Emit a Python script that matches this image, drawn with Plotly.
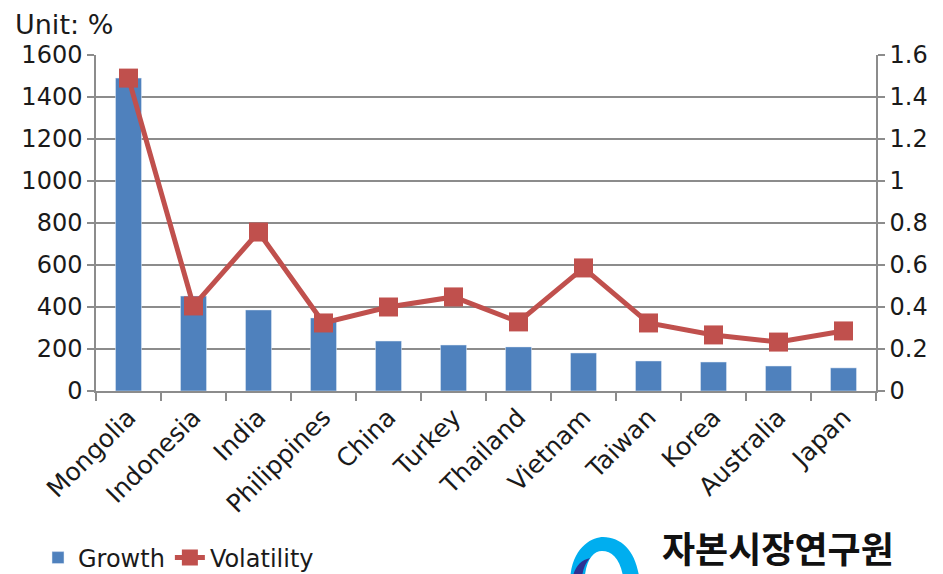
import plotly.graph_objects as go

countries = ["Mongolia", "Indonesia", "India", "Philippines", "China", "Turkey",
             "Thailand", "Vietnam", "Taiwan", "Korea", "Australia", "Japan"]
growth = [1490, 452, 386, 348, 238, 219, 210, 181, 143, 138, 119, 110]
volatility = [1.49, 0.405, 0.757, 0.324, 0.40, 0.448, 0.329, 0.586, 0.324, 0.267, 0.233, 0.286]
left_ticks = [0, 200, 400, 600, 800, 1000, 1200, 1400, 1600]
right_ticks = [0, 0.2, 0.4, 0.6, 0.8, 1, 1.2, 1.4, 1.6]
right_labels = ["0", "0.2", "0.4", "0.6", "0.8", "1", "1.2", "1.4", "1.6"]

BLUE = "#4F81BD"
RED = "#C0504D"
GRID = "#8C8C8C"
FONT = "DejaVu Sans"

W, H = 943, 574
L, R, T, B = 96, 876, 55, 391


def px(x):
    return (x - L) / (R - L)


def py(y):
    return (B - y) / (B - T)


fig = go.Figure()
fig.add_trace(go.Bar(x=countries, y=growth, name="Growth", marker_color=BLUE,
                     width=0.4, yaxis="y"))
fig.add_trace(go.Scatter(x=countries, y=volatility, name="Volatility", yaxis="y2",
                         mode="lines+markers",
                         line=dict(color=RED, width=5),
                         marker=dict(symbol="square", size=19, color=RED)))

fig.update_layout(
    width=W, height=H,
    margin=dict(l=L, r=W - R, t=T, b=H - B, autoexpand=False),
    plot_bgcolor="white", paper_bgcolor="white",
    font=dict(family=FONT, size=24, color="#1a1a1a"),
    xaxis=dict(range=[-0.5, len(countries) - 0.5], automargin=False,
               showline=True, linecolor=GRID, linewidth=1.5, ticks="outside",
               ticklen=8, tickcolor=GRID, tickwidth=1.5, tickangle=-45,
               tickson="boundaries", showgrid=False,
               tickfont=dict(size=25, family=FONT)),
    yaxis=dict(range=[0, 1600], tickvals=left_ticks, automargin=False,
               showgrid=True, gridcolor=GRID, gridwidth=1.5, showline=True,
               linecolor=GRID, linewidth=1.5, ticks="outside", ticklen=7,
               tickcolor=GRID, tickwidth=1.5, zeroline=False,
               tickfont=dict(size=24, family=FONT)),
    yaxis2=dict(range=[0, 1.6], tickvals=right_ticks, ticktext=right_labels,
                automargin=False, overlaying="y", side="right", showgrid=False,
                showline=True, linecolor=GRID, linewidth=1.5, ticks="outside",
                ticklen=7, tickcolor=GRID, tickwidth=1.5, zeroline=False,
                tickfont=dict(size=24, family=FONT)),
    legend=dict(orientation="h", x=px(38), y=py(558), xanchor="left",
                yanchor="middle", font=dict(size=24, family=FONT),
                itemwidth=30, tracegroupgap=0, bgcolor="rgba(0,0,0,0)"),
    showlegend=True,
)

# Unit label above the left axis
fig.add_annotation(text="Unit: %", xref="paper", yref="paper", x=px(13), y=py(24),
                   xanchor="left", yanchor="middle", showarrow=False,
                   font=dict(size=27, family=FONT, color="#1a1a1a"))

# Institute logo: arc emblem and name
fig.add_shape(type="path", xref="paper", yref="paper",
              path=(f"M {px(570)},{py(590)} "
                    f"C {px(568)},{py(548)} {px(592)},{py(537)} {px(603)},{py(537)} "
                    f"C {px(625)},{py(537)} {px(640)},{py(557)} {px(640)},{py(590)} "
                    f"L {px(624)},{py(590)} "
                    f"C {px(624)},{py(563)} {px(614)},{py(551)} {px(602)},{py(551)} "
                    f"C {px(592)},{py(551)} {px(584)},{py(562)} {px(584)},{py(590)} Z"),
              fillcolor="#00AEEF", line=dict(width=0))
fig.add_shape(type="path", xref="paper", yref="paper",
              path=(f"M {px(571)},{py(590)} "
                    f"C {px(572)},{py(570)} {px(578)},{py(561)} {px(590)},{py(558)} "
                    f"C {px(583)},{py(566)} {px(581)},{py(575)} {px(582)},{py(590)} Z"),
              fillcolor="#2E3192", line=dict(width=0))
fig.add_annotation(text="<b>자본시장연구원</b>", xref="paper", yref="paper",
                   x=px(660), y=py(547), xanchor="left", yanchor="middle",
                   showarrow=False,
                   font=dict(size=36, family="Noto Sans CJK KR", color="#111111"))

fig.write_html("out.html")
